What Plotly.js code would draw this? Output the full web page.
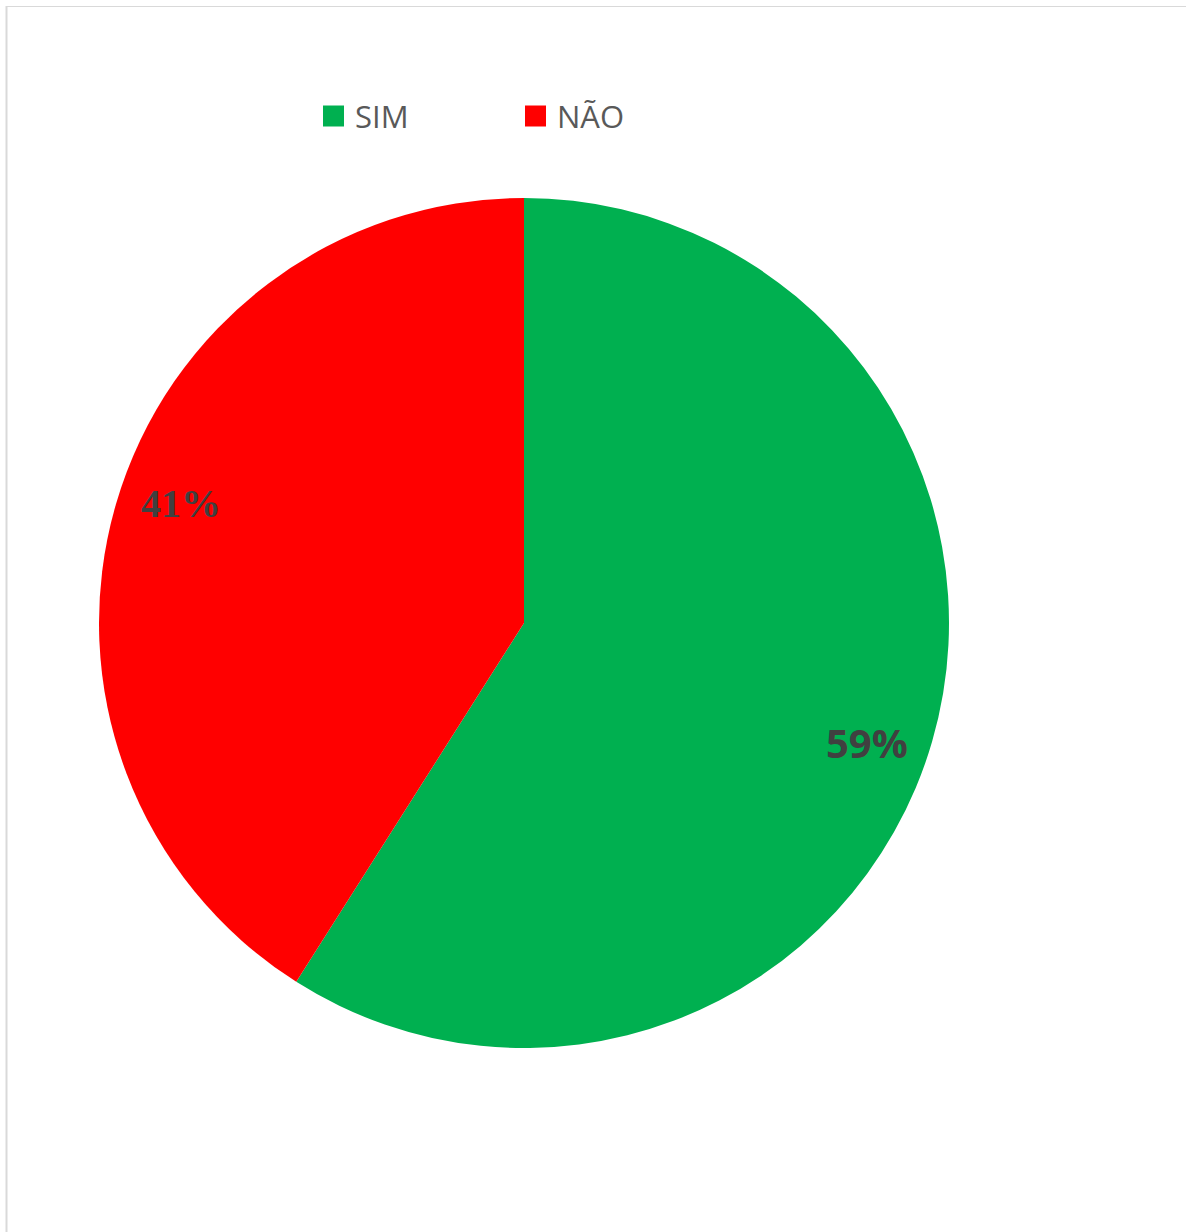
<!DOCTYPE html>
<html>
<head>
<meta charset="utf-8">
<script src="https://cdn.plot.ly/plotly-3.0.1.min.js"></script>
<style>html,body{margin:0;padding:0;background:#fff;}#chart{width:1186px;height:1232px;}</style>
</head>
<body>
<div id="chart"></div>
<script>
// Data
const labels = ['SIM', 'NÃO'];
const values = [59, 41];
const colors = ['#00B050', '#FF0000'];
const labelFonts = ['Open Sans', 'Liberation Serif'];
const labelSizes = [40, 40];

// Geometry (pixels)
const W = 1186, H = 1232;
const cx = 524, cy = 623, R = 425;
const px = x => x / W;
const py = y => 1 - y / H;

const total = values.reduce((a, b) => a + b, 0);
const annotations = [];
let cum = 0;
const labelRadius = 0.855, angleShift = 3;
values.forEach((v, i) => {
  const midDeg = (cum + v / 2) / total * 360 + angleShift;
  cum += v;
  const a = midDeg * Math.PI / 180;
  const x = cx + Math.sin(a) * R * labelRadius;
  const y = cy - Math.cos(a) * R * labelRadius;
  annotations.push({
    xref: 'paper', yref: 'paper', x: px(x), y: py(y),
    xanchor: 'center', yanchor: 'middle', showarrow: false,
    text: Math.round(v / total * 100) + '%',
    font: {family: labelFonts[i], size: labelSizes[i], color: '#404040', weight: 'bold'}
  });
});

// Custom legend
const legendX = [323, 525];
const shapes = [];
labels.forEach((l, i) => {
  shapes.push({type: 'rect', xref: 'paper', yref: 'paper',
    x0: px(legendX[i]), x1: px(legendX[i] + 21), y0: py(126.5), y1: py(105.5),
    fillcolor: colors[i], line: {width: 0}});
  annotations.push({xref: 'paper', yref: 'paper', x: px(legendX[i] + 30), y: py(116),
    xanchor: 'left', yanchor: 'middle', showarrow: false, text: l,
    font: {family: 'Open Sans', size: 31, color: '#595959'}});
});
// frame lines
shapes.push({type: 'line', xref: 'paper', yref: 'paper', x0: px(6), x1: 1, y0: py(6.5), y1: py(6.5), line: {color: '#d9d9d9', width: 1}});
shapes.push({type: 'line', xref: 'paper', yref: 'paper', x0: px(6.5), x1: px(6.5), y0: py(6), y1: 0, line: {color: '#d9d9d9', width: 2}});

const trace = {
  type: 'pie', labels: labels, values: values, sort: false,
  direction: 'clockwise', rotation: 0,
  marker: {colors: colors, line: {width: 0}},
  textinfo: 'none', hoverinfo: 'label+percent',
  domain: {x: [px(cx - R), px(cx + R)], y: [py(cy + R), py(cy - R)]},
  showlegend: false
};

Plotly.newPlot('chart', [trace], {
  width: W, height: H,
  margin: {l: 0, r: 0, t: 0, b: 0},
  paper_bgcolor: '#ffffff',
  showlegend: false,
  annotations: annotations,
  shapes: shapes
}, {displayModeBar: false});
</script>
</body>
</html>
